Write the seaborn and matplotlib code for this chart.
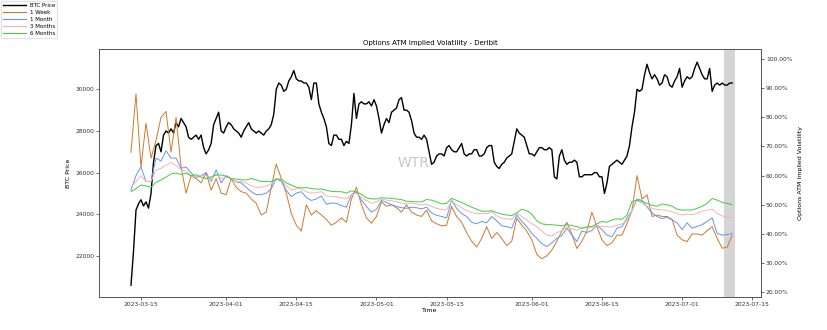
import numpy as np
import pandas as pd
import matplotlib
matplotlib.use("Agg")
import matplotlib.pyplot as plt
import matplotlib.dates as mdates
from matplotlib.lines import Line2D
from matplotlib.ticker import PercentFormatter, FixedLocator
import seaborn as sns

# ---------------- data ----------------
# BTC price: every 12 hours, 2023-03-13 00:00 .. 2023-07-11 00:00
btc_start = "2023-03-13 00:00"
btc_price = [
    # March 13-31
    20600, 22200, 24200, 24500, 24700, 24400, 24600, 24300, 25000, 26500,
    27300, 27400, 27000, 27800, 28000, 27900, 28100, 27900, 28400, 28200,
    28600, 28400, 28200, 27700, 27600, 27700, 27800, 27600, 27800, 27200,
    26900, 27100, 27400, 28300, 28600, 28900, 28000, 27900,
    # April
    28200, 28400, 28300, 28100, 28000, 27900, 27700, 28000, 28200, 28400,
    28100, 28000, 27900, 28000, 27900, 27800, 28000, 28100, 28300, 28800,
    30000, 30300, 30200, 29900, 30000, 30400, 30600, 30900, 30500, 30400,
    30400, 30300, 30300, 30100, 29500, 30300, 30300, 29300, 28900, 28600,
    28200, 27400, 27300, 27800, 27800, 27600, 27600, 27300, 27500, 27400,
    28300, 29800, 28600, 29300, 29400, 29300, 29300, 29400, 29200, 29500,
    # May
    29200, 28600, 27900, 28300, 28600, 28400, 28900, 29000, 29100, 29500,
    29600, 29000, 29000, 28900, 28500, 27900, 27700, 27700, 27600, 27800,
    27600, 27000, 26400, 26500, 26800, 26900, 26900, 26800, 27200, 27300,
    27100, 27000, 27000, 27200, 27400, 26900, 26800, 26900, 26900, 27100,
    27100, 26800, 26800, 26900, 27200, 27300, 27300, 26500, 26300, 26200,
    26400, 26500, 26700, 26800, 26900, 27500, 28100, 27900, 27800, 27700,
    27300, 26900,
    # June
    26900, 26800, 27000, 27200, 27200, 27100, 27100, 27200, 27100, 25800,
    25700, 26800, 27100, 26600, 26400, 26500, 26500, 26600, 26500, 25800,
    25800, 25900, 25900, 25900, 25900, 26000, 26000, 25800, 25800, 25000,
    25500, 26300, 26400, 26500, 26600, 26500, 26400, 26600, 26800, 27300,
    28200, 28900, 30000, 29900, 30000, 30700, 31200, 30800, 30500, 30700,
    30500, 30200, 30300, 30700, 30600, 30200, 30100, 30400, 30600, 31000,
    # July 1-11
    30100, 30400, 30600, 30500, 30600, 31000, 31300, 31000, 30700, 30500,
    30500, 31000, 29900, 30200, 30300, 30200, 30300, 30200, 30200, 30300,
    30300,
]

# ATM implied volatility (%), daily, 2023-03-13 .. 2023-07-11
iv_start = "2023-03-13"
iv_1w = [
    68, 88, 63, 78, 66, 72, 80, 82, 68, 80, 63, 54, 60, 59, 57.5, 61, 55, 59, 54,
    53.5, 59, 56, 54.5, 54, 52, 50.5, 46.5, 47.5, 56, 64, 59, 54, 47, 43, 41, 50,
    46.5, 48, 46.5, 45, 43, 44, 45.5, 44, 52, 56, 50, 45.5, 43.7,
    46, 51, 49.5, 50, 49, 47.5, 50, 47.5, 46.5, 46, 48.2, 44.5, 43.5, 42.8, 43,
    49.4, 46, 44, 40.5, 37.5, 35.5, 38.5, 42.5, 38.5, 40.5, 38.5, 36, 37.5, 45.4,
    43, 41,
    38, 33, 31.5, 32.5, 34.5, 37.5, 41, 44, 40, 35, 37.5, 41, 47.5, 42.5, 38, 36,
    37, 39.6, 39.6, 43.5, 48, 60, 52, 53.4, 46, 46.5, 46, 46, 45, 39.6,
    38, 37.4, 40, 40, 39.6, 41.2, 42.5, 38.5, 35.1, 35.5, 39.6,
]

iv_1m = [
    55, 60, 63, 58, 58, 66, 65, 68.5, 66, 66, 62.5, 63, 61, 59.3, 60, 61, 58, 62, 57.5,
    60, 59, 57.9, 57.5, 56, 54.5, 53.5, 53.5, 54, 55.5, 59, 58, 55, 52.8, 54, 54.5,
    52.5, 51.5, 52, 53, 50.2, 50.6, 50.5, 49.7, 49.2, 53.5, 54.5, 51.6, 49.4, 47.5,
    48.5, 51.5, 50.8, 50, 49.4, 49, 48.8, 49.2, 49, 48.6, 49.2, 47.2, 46.4, 46, 45.5,
    51.6, 48.8, 47, 46, 44, 43.5, 44.3, 43.8, 46, 44.5, 42.8, 42.5, 42, 46.5, 44.3,
    42.5,
    40.2, 38.5, 36.7, 35.7, 37, 38.5, 39.5, 42, 39.6, 37.4, 41, 40.5, 41.2, 43, 41.5,
    39.6, 39, 42, 42.5, 45.5, 48, 52, 51.5, 49.2, 47.2, 46, 45.2, 45.8, 44.8, 43.8,
    41.5, 43.8, 42, 42.6, 43.2, 44.3, 45.5, 40.2, 39.6, 39.8, 40.2,
]

iv_3m = [
    56, 58, 60, 58, 58, 62, 62.5, 63.5, 64.5, 63.5, 62, 61.5, 60, 59.5, 60, 60, 59,
    60.5, 59,
    59.5, 59, 58, 58, 57.5, 56.5, 56, 56, 56.5, 57, 59, 58.5, 56.5, 55, 55.5, 55.5,
    54.5, 54, 54.2, 54.5, 53, 52.8, 52.8, 52.4, 52, 53.5, 54, 52.5, 51.5, 50.5,
    51, 52, 51.6, 51.4, 51, 50.6, 50.3, 50.5, 50.2, 50, 50.2, 49.4, 48.8, 48.4, 48.2,
    51.5, 50, 49, 48, 47.4, 47, 47, 47, 47.6, 46.2, 45.4, 45.2, 45, 47.2, 46, 44.8,
    43.5, 42.5, 41, 39.6, 39.3, 40.5, 41, 42.5, 41.8, 41.2, 42, 42, 42.2, 43, 42.5,
    42.5, 42.4, 43, 43.4, 44.5, 48, 51.5, 50.5, 49.5, 48.8, 48.4, 48.3, 48, 47.6, 47,
    46.5, 46.8, 46.6, 47, 47.8, 48.2, 48.5, 47, 46.2, 45.6, 45.8,
]

iv_6m = [
    54.5, 55.5, 56.8, 56.5, 56, 57.7, 58.5, 59.5, 60.6, 60.9, 60.4, 60.8, 60, 60.3,
    59.5, 59, 59.6, 60.2, 60.2,
    59.8, 59, 58.8, 58.6, 58.5, 59, 58.5, 58, 58, 57.9, 58.8, 58.8, 57.5, 56.8, 56,
    55.8, 55.9, 55.6, 55.4, 55.4, 55, 54.6, 54.5, 54.5, 54, 54.8, 54.5, 53.5, 52.4, 52,
    52, 52.4, 52.3, 52.2, 52, 51.8, 51.2, 51.1, 51, 51, 51.8, 51.6, 51, 50.3, 50.5,
    52.2, 51.5, 50.8, 50, 49.2, 48.5, 47.8, 47.8, 48, 47.3, 46.8, 46.5, 46.3, 47.2,
    48.5, 48,
    46.8, 44.5, 43.5, 43.2, 43.2, 43, 42.8, 43.2, 42.9, 42.5, 41.9, 42.5, 42.6, 43.5,
    44.3, 44, 44.8, 45.2, 45, 46.5, 51.1, 51.6, 51.1, 50.5, 49.8, 49.5, 50.3, 50,
    49.5, 48.5,
    48.2, 48.2, 48.2, 48.8, 49.5, 50.5, 52.2, 51.6, 50.8, 50.5, 50,
]

series_labels = ["1 Week", "1 Month", "3 Months", "6 Months"]
series_colors = ["#d0782c", "#6495ed", "#f4b2bb", "#3fcf3f"]
iv_ticks = [20, 30, 40, 50, 60, 70, 80, 90, 100]
btc_ticks = [22000, 24000, 26000, 28000, 30000]
shade_range = ("2023-07-09 10:00", "2023-07-11 14:00")
x_range = ("2023-03-06 15:00", "2023-07-16 18:00")

btc_df = pd.DataFrame({
    "Time": pd.date_range(btc_start, periods=len(btc_price), freq="12h"),
    "BTC Price": btc_price})
iv_df = pd.DataFrame({
    "Time": pd.date_range(iv_start, periods=len(iv_1w), freq="D"),
    "1 Week": iv_1w, "1 Month": iv_1m, "3 Months": iv_3m, "6 Months": iv_6m})

# ---------------- figure ----------------
fig = plt.figure(figsize=(8.28, 3.30), dpi=100)
ax = fig.add_axes([0.1196, 0.1009, 0.7995, 0.7497])
ax2 = ax.twinx()

ax.axvspan(pd.Timestamp(shade_range[0]), pd.Timestamp(shade_range[1]),
           color="#d3d3d3", alpha=0.95, lw=0, zorder=0)

sns.lineplot(data=btc_df, x="Time", y="BTC Price", ax=ax, color="black",
             linewidth=1.0, legend=False, zorder=3)
for lab, col in zip(series_labels, series_colors):
    sns.lineplot(data=iv_df, x="Time", y=lab, ax=ax2, color=col,
                 linewidth=0.7, legend=False)

ax.set_xlim(pd.Timestamp(x_range[0]), pd.Timestamp(x_range[1]))
ax.set_ylim(20048, 31918)
ax2.set_ylim(18.5, 103.3)

ax.xaxis.set_major_locator(mdates.DayLocator(bymonthday=[1, 15]))
ax.xaxis.set_major_formatter(mdates.DateFormatter("%Y-%m-%d"))
ax.yaxis.set_major_locator(FixedLocator(btc_ticks))
ax2.yaxis.set_major_locator(FixedLocator(iv_ticks))
ax2.yaxis.set_major_formatter(PercentFormatter(decimals=2))

for a in (ax, ax2):
    a.tick_params(labelsize=4.3, length=2, width=0.5, pad=1.5, colors="#333333")
    for s in a.spines.values():
        s.set_linewidth(0.6)
        s.set_color("#555555")

ax.set_xlabel("Time", fontsize=4.5, labelpad=1)
ax.set_ylabel("BTC Price", fontsize=4.5, labelpad=3)
ax2.set_ylabel("Options ATM Implied Volatility", fontsize=4.5, labelpad=4)
ax.set_title("Options ATM Implied Volatility - Deribit", fontsize=5, pad=3)

fig.text(413 / 828, 1 - 163 / 330, "WTR", fontsize=10, color="#c8c8c8",
         ha="center", va="center")

handles = [Line2D([], [], color="black", lw=1.0)] + \
          [Line2D([], [], color=c, lw=0.8) for c in series_colors]
labels = ["BTC Price"] + series_labels
fig.legend(handles, labels, loc="upper left", bbox_to_anchor=(0.0, 1.0),
           fontsize=4, frameon=True, handlelength=4, borderaxespad=0.2,
           labelspacing=0.35, fancybox=False, edgecolor="#dddddd")

fig.savefig("out.png", dpi=100)
